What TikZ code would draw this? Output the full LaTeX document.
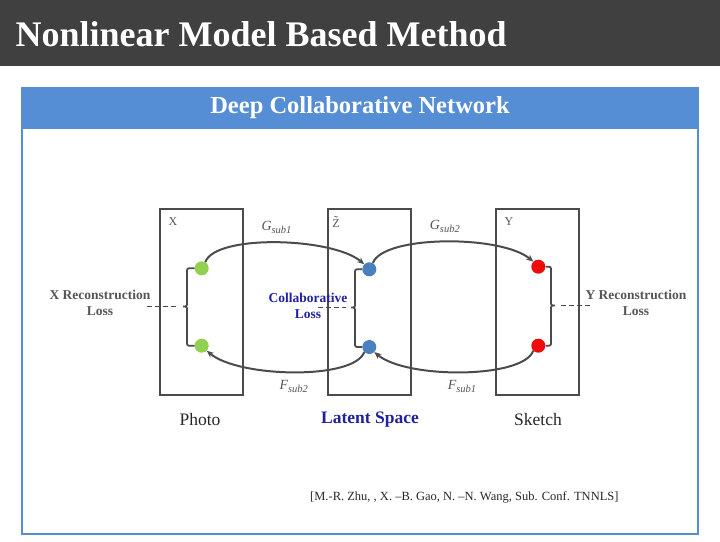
\documentclass[tikz,border=0pt]{standalone}
\usepackage{fontspec}
\setmainfont{Liberation Serif}
\usetikzlibrary{arrows.meta}

\definecolor{barGray}{RGB}{64,64,64}
\definecolor{headBlue}{RGB}{85,142,213}
\definecolor{lineGray}{RGB}{75,75,75}
\definecolor{txtGray}{RGB}{85,85,85}
\definecolor{navyText}{RGB}{32,32,160}
\definecolor{dotGreen}{RGB}{146,208,80}
\definecolor{dotBlue}{RGB}{74,128,190}
\definecolor{dotRed}{RGB}{240,10,10}

\newcommand{\subl}[1]{\raisebox{-2.5pt}{\fontsize{10.5}{12}\selectfont #1}}

\tikzset{
    space/.style={draw=lineGray, line width=2pt, minimum width=83pt, minimum height=186pt, inner sep=0pt},
    pt/.style={circle, fill=#1, minimum size=14pt, inner sep=0pt},
    flow/.style={draw=lineGray, line width=2pt, -{Stealth[length=7pt,width=6pt]}},
    brk/.style={draw=lineGray, line width=1.8pt, rounded corners=2pt},
    lossline/.style={draw=lineGray, line width=1.8pt, dash pattern=on 5pt off 3pt},
    losstxt/.style={align=center, font=\fontsize{13.5}{16.5}\selectfont\bfseries},
    spacelbl/.style={text=txtGray, font=\fontsize{12}{14}\selectfont},
    flowlbl/.style={text=txtGray, font=\fontsize{14}{16}\selectfont\itshape},
    caption/.style={font=\fontsize{17.5}{20}\selectfont}
}

\begin{document}
\begin{tikzpicture}[x=1pt, y=-1pt]
    \useasboundingbox (0,0) rectangle (720,541);

    % title bar and frame
    \fill[barGray] (0,0) rectangle (720,66);
    \node[text=white, font=\fontsize{36}{40}\selectfont\bfseries, anchor=base west] (title) at (12,46) {Nonlinear Model Based Method};
    \fill[headBlue] (22,88) rectangle (698,129);
    \draw[headBlue, line width=1.8pt] (22,88) rectangle (698,534);
    \node[text=white, font=\fontsize{24.5}{28}\selectfont\bfseries] (head) at (360,108) {Deep Collaborative Network};

    % the three spaces
    \node[space] (X) at (201.5,301.5) {};
    \node[space] (Z) at (369.3,301.5) {};
    \node[space] (Y) at (537.5,301.5) {};
    \node[spacelbl] (xlbl) at (173,222) {X};
    \node[spacelbl] (zlbl) at (336,222) {Z̃};
    \node[spacelbl] (ylbl) at (509,222) {Y};

    \node[pt=dotGreen] (g1) at (201.7,268.3) {};
    \node[pt=dotGreen] (g2) at (201.7,345.7) {};
    \node[pt=dotBlue] (b1) at (369.3,269.3) {};
    \node[pt=dotBlue] (b2) at (369.3,347) {};
    \node[pt=dotRed] (r1) at (538.3,266.7) {};
    \node[pt=dotRed] (r2) at (538.3,345.7) {};

    % mappings between the spaces
    \draw[flow] (g1.60) .. controls +(10,-28) and +(-32,-27) .. node[flowlbl, above=5pt] {G\subl{sub1}} (b1.135);
    \draw[flow] (b1.60) .. controls +(10,-28) and +(-32,-27) .. node[flowlbl, above=5pt] {G\subl{sub2}} (r1.135);
    \draw[flow] (r2.225) .. controls +(-10,28) and +(32,27) .. node[flowlbl, below=4pt] {F\subl{sub1}} (b2.-45);
    \draw[flow] (b2.225) .. controls +(-10,28) and +(32,27) .. node[flowlbl, below=4pt] {F\subl{sub2}} (g2.-45);

    % losses
    \coordinate (xtip) at (182,306.5);
    \coordinate (ztip) at (350,307.5);
    \coordinate (ytip) at (556,305.5);
    \draw[brk] (g1.west) -| ([xshift=5pt]xtip) -- (xtip) -- ([xshift=5pt]xtip) |- (g2.west);
    \draw[brk] (b1.west) -| ([xshift=5pt]ztip) -- (ztip) -- ([xshift=5pt]ztip) |- (b2.west);
    \draw[brk] (r1.east) -| ([xshift=-5pt]ytip) -- (ytip) -- ([xshift=-5pt]ytip) |- (r2.east);

    \node[losstxt, text=txtGray] (xloss) at (100,303) {X Reconstruction\\Loss};
    \node[losstxt, text=navyText] (zloss) at (308,306) {Collaborative\\Loss};
    \node[losstxt, text=txtGray] (yloss) at (636,303) {Y Reconstruction\\Loss};

    \coordinate (xend) at (147,306.5);
    \coordinate (zend) at (318,307.5);
    \coordinate (yend) at (590,305.5);
    \draw[lossline] (xend) -- ([xshift=-5pt]xtip);
    \draw[lossline] (zend) -- ([xshift=-4pt]ztip);
    \draw[lossline] (yend) -- ([xshift=4pt]ytip);

    \node[caption, text=black!85] (photo) at (200,420) {Photo};
    \node[caption, text=navyText, font=\fontsize{17.5}{20}\selectfont\bfseries] (latent) at (370,420) {Latent Space};
    \node[caption, text=black!85] (sketch) at (538,420) {Sketch};

    \node[anchor=west, font=\fontsize{12.5}{14}\selectfont, text=black!85, inner sep=0pt] (ref) at (310,497) {[M.-R. Zhu, , X. –B. Gao, N. –N. Wang, Sub. Conf. TNNLS]};
\end{tikzpicture}
\end{document}
